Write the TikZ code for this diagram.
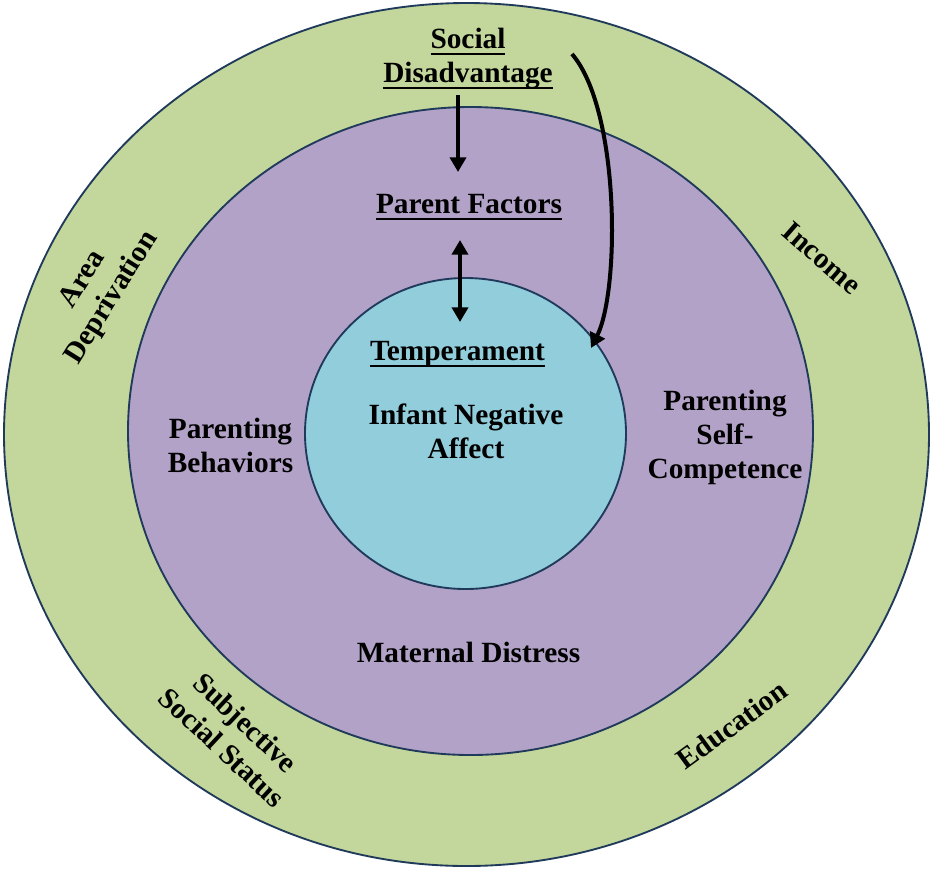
\documentclass[tikz,border=0pt]{standalone}
\usepackage{fontspec}
\setmainfont{Liberation Serif}
\usetikzlibrary{arrows.meta,shapes.geometric}
\definecolor{greenring}{HTML}{C3D69B}
\definecolor{purplering}{HTML}{B2A2C7}
\definecolor{bluering}{HTML}{92CDDC}
\definecolor{edgecol}{HTML}{1F3A5A}
\newcommand\ulx[1]{\setbox0\hbox{#1}\rlap{\rule[-5.2pt]{\wd0}{1.4pt}}\box0}
\begin{document}
\begin{tikzpicture}[x=0.75pt,y=-0.75pt,
 ring/.style={ellipse, draw=edgecol, line width=1.4pt, inner sep=0pt, outer sep=0pt},
 lbl/.style={font=\fontsize{22}{25.5}\selectfont\bfseries, align=center, inner sep=0pt},
 arr/.style={line width=3pt, -{Triangle[length=11pt,width=12pt]}},
 darr/.style={line width=3pt, {Triangle[length=11pt,width=12pt]}-{Triangle[length=11pt,width=12pt]}},
]
\useasboundingbox (0,0) rectangle (935,869);
\node[ring, fill=greenring, minimum width=693.75pt, minimum height=647.25pt] (outer) at (466.5,434.5) {};
\node[ring, fill=purplering, minimum width=513.75pt, minimum height=486pt] (middle) at (470.5,431) {};
\node[ring, fill=bluering, minimum width=240.75pt, minimum height=233.25pt] (inner) at (465.5,433.5) {};

\node[lbl, anchor=base] (sd) at (468,82) {\ulx{Social}\\\ulx{Disadvantage}};
\node[lbl, anchor=base] (pf) at (469,213) {\ulx{Parent Factors}};
\node[lbl, anchor=base] (tp) at (457.5,360) {\ulx{Temperament}};
\node[lbl, anchor=base] (ina) at (466,458) {Infant Negative\\Affect};
\node[lbl, anchor=base] (pb) at (230.5,472) {Parenting\\Behaviors};
\node[lbl, anchor=base] (psc) at (725,478) {Parenting\\Self-\\Competence};
\node[lbl, anchor=base] (md) at (468.5,662) {Maternal Distress};

\node[lbl, rotate=58] (ad) at (98,289) {Area\\Deprivation};
\node[lbl, rotate=-41] (inc) at (822,258) {Income};
\node[lbl, rotate=-43] (sss) at (234,735) {Subjective\\Social Status};
\node[lbl, rotate=36] (edu) at (732,725) {Education};

\coordinate (sdout) at (458,95);
\coordinate (pfin) at (458,172);
\coordinate (pfout) at (460,240);
\coordinate (tpin) at (460,322);
\coordinate (sdcurve) at (572,54);
\coordinate (tpcurve) at (591,348);

\draw[arr] (sdout) -- (pfin);
\draw[darr] (pfout) -- (tpin);
\draw[arr] (sdcurve) .. controls (620,110) and (620,290) .. (tpcurve);
\end{tikzpicture}
\end{document}
